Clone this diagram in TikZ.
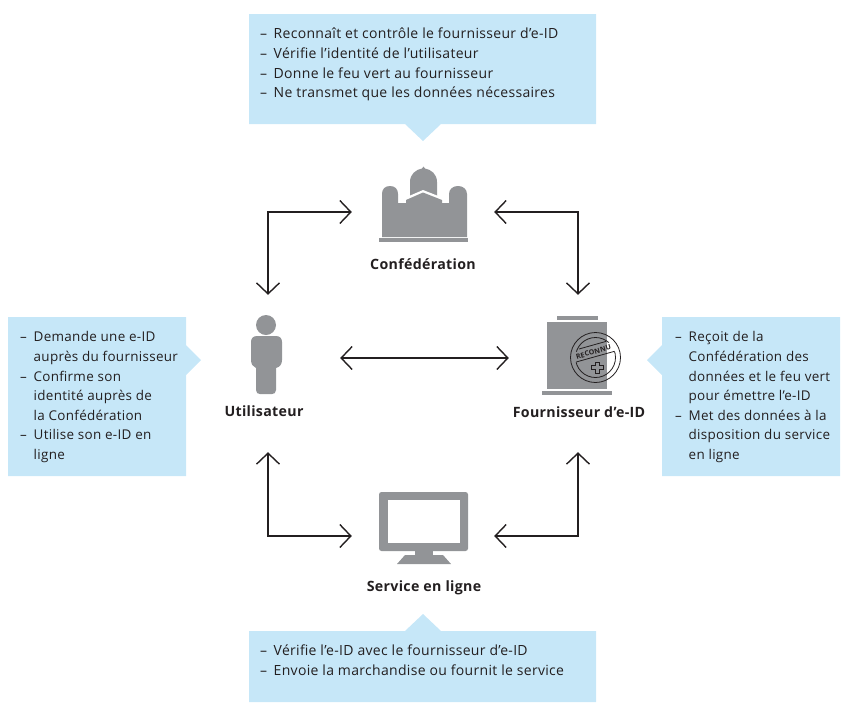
\documentclass[tikz,border=0pt]{standalone}
\usepackage{fontspec}
\setmainfont[LetterSpace=2.2]{Open Sans}
\usetikzlibrary{arrows.meta}
\definecolor{bluebox}{HTML}{C6E7F8}
\definecolor{icongray}{HTML}{929497}
\definecolor{ink}{HTML}{231F20}
\newcommand{\dashitem}{\makebox[13.5pt][l]{–}}
\newcommand{\hangitem}{\hspace*{13.5pt}}
\tikzset{
  callout/.style={fill=bluebox,draw=none},
  calltext/.style={inner sep=0pt,align=left,anchor=north west,text=ink,font=\fontsize{14}{19.6}\selectfont},
  sidetext/.style={calltext,font=\fontsize{13.45}{19.6}\selectfont},
  hub/.style={inner sep=0pt,draw=none,fill=none},
  roleLabel/.style={inner sep=0pt,text=ink,font=\fontsize{14.2}{16}\selectfont\bfseries},
  link/.style={draw=ink,line width=1.4pt,{Straight Barb[length=11pt,width=23pt,line width=1.4pt]}-{Straight Barb[length=11pt,width=23pt,line width=1.4pt]}},
  icon/.style={fill=icongray,draw=none},
  stampline/.style={draw=ink,line width=0.8pt}
}
\begin{document}
\begin{tikzpicture}[x=1pt,y=-1pt]
\useasboundingbox (0,0) rectangle (852,716);
% callouts
\fill[callout] (249,14) -- (596,14) -- (596,124) -- (441,124) -- (423,141) -- (405,124) -- (249,124) -- cycle;
\fill[callout] (8,317) -- (186,317) -- (186,345) -- (201,360) -- (186,375) -- (186,476) -- (8,476) -- cycle;
\fill[callout] (662,317) -- (840,317) -- (840,476) -- (662,476) -- (662,375) -- (647,360) -- (662,345) -- cycle;
\fill[callout] (249,631) -- (405,631) -- (423,614) -- (441,631) -- (596,631) -- (596,702) -- (249,702) -- cycle;
\node[calltext] (topText) at (260,28) {\dashitem Reconnaît et contrôle le fournisseur d’e-ID\\\dashitem Vérifie l’identité de l’utilisateur\\\dashitem Donne le feu vert au fournisseur\\\dashitem Ne transmet que les données nécessaires};
\node[sidetext] (leftText) at (20,331.5) {\dashitem Demande une e-ID\\\hangitem auprès du fournisseur\\\dashitem Confirme son\\\hangitem identité auprès de\\\hangitem la Confédération\\\dashitem Utilise son e-ID en\\\hangitem ligne};
\node[sidetext] (rightText) at (675,331.5) {\dashitem Reçoit de la\\\hangitem Confédération des\\\hangitem données et le feu vert\\\hangitem pour émettre l’e-ID\\\dashitem Met des données à la\\\hangitem disposition du service\\\hangitem en ligne};
\node[calltext] (bottomText) at (260,645) {\dashitem Vérifie l’e-ID avec le fournisseur d’e-ID\\\dashitem Envoie la marchandise ou fournit le service};
% hubs (invisible frames the connectors attach to)
\node[hub,minimum width=142pt,minimum height=60pt] (conf) at (423,212) {};
\node[hub,minimum width=142pt,minimum height=60pt] (serv) at (423,536) {};
\node[hub,minimum width=144pt,minimum height=157pt] (user) at (268,373.5) {};
\node[hub,minimum width=138pt,minimum height=157pt] (prov) at (578,373.5) {};
% connectors
\draw[link] (user.north) |- (conf.west);
\draw[link] (conf.east) -| (prov.north);
\draw[link] (user.south) |- (serv.west);
\draw[link] (serv.east) -| (prov.south);
\draw[link] (user.east |- 0,358) -- (prov.west |- 0,358);
% building: dome, gap, body, base
\fill[icon] (410,198) -- (410,182) .. controls (410,174) and (416,169.5) .. (422,168.5) -- (423.5,166.5) -- (425,168.5) .. controls (431,169.5) and (437,174) .. (437,182) -- (437,198) -- cycle;
\fill[white] (402,203) -- (402,199) -- (423,190) -- (446,199) -- (446,203) -- cycle;
\fill[icon] (382,237) -- (382,194) .. controls (382,189) and (385,186) .. (390,186) .. controls (395,186) and (398,189) .. (398,194) -- (398,203) -- (406,203) -- (406,200) -- (423,192.5) -- (442,200) -- (442,203) -- (449,203) -- (449,194) .. controls (449,189) and (453,186) .. (458,186) .. controls (463,186) and (467,189) .. (467,194) -- (467,237) -- cycle;
\fill[icon] (379,237.5) rectangle (468,242);
% user
\fill[icon] (266,325) circle[radius=10];
\fill[icon] (257,336) -- (276,336) .. controls (280,336) and (282,338.5) .. (282,342) -- (282,360) .. controls (282,364) and (280,367) .. (276,368) -- (276,390) .. controls (276,393) and (274,394) .. (272,394) -- (260,394) .. controls (258,394) and (256,393) .. (256,390) -- (256,368) .. controls (253,367) and (251,364) .. (251,360) -- (251,342) .. controls (251,338.5) and (253,336) .. (257,336) -- cycle;
% provider
\fill[icon] (557,316) rectangle (598,320);
\fill[icon] (547,322) rectangle (607,389);
\fill[icon] (542,391) rectangle (612,395);
\draw[stampline] (595.5,357.5) circle[radius=25];
\begin{scope}
\clip (560,366.8) -- (630,347.2) -- (630,400) -- (560,400) -- cycle;
\draw[stampline] (595.5,357.5) circle[radius=20];
\end{scope}
\begin{scope}
\clip (560,356.3) -- (630,336.7) -- (630,320) -- (560,320) -- cycle;
\draw[stampline] (595.5,357.5) circle[radius=20];
\end{scope}
\node[inner sep=0pt,rotate=16,text=ink,font=\fontsize{7}{7}\selectfont\bfseries] (stamp) at (593.5,352) {RECONNU};
\draw[stampline] (576.5,361.9) -- (614.5,351.3);
\draw[stampline] (579,349) -- (606,341.4);
\draw[stampline] (595,362) -- (599.5,362) -- (599.5,365) -- (603,365) -- (603,369.5) -- (599.5,369.5) -- (599.5,373) -- (595,373) -- (595,369.5) -- (591.5,369.5) -- (591.5,365) -- (595,365) -- cycle;
% monitor
\fill[icon,rounded corners=2.5pt] (379,492) rectangle (468,551);
\fill[white] (388,500) rectangle (460,543);
\fill[icon] (415,551) rectangle (433,556);
\fill[icon] (405,555) -- (443,555) -- (451,564) -- (397,564) -- cycle;
% labels
\node[roleLabel] (confLabel) at (423,264) {Confédération};
\node[roleLabel] (userLabel) at (264,411) {Utilisateur};
\node[roleLabel] (provLabel) at (579,412) {Fournisseur d’e-ID};
\node[roleLabel] (servLabel) at (424,588) {Service en ligne};
\end{tikzpicture}
\end{document}
